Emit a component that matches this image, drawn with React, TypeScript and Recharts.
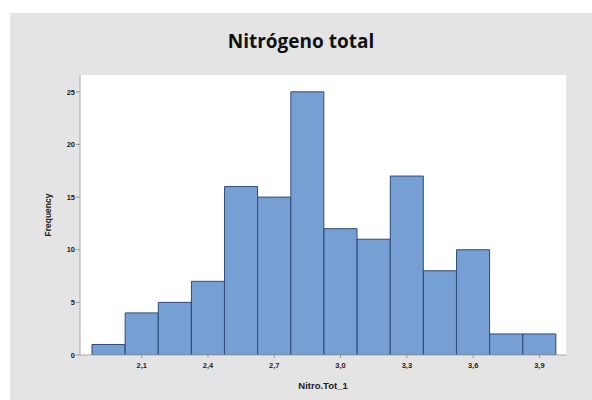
import { BarChart, Bar, XAxis, YAxis, CartesianGrid } from 'recharts';

// bin centers (width 0.15) and counts
const binCenters = [1.95, 2.1, 2.25, 2.4, 2.55, 2.7, 2.85, 3.0, 3.15, 3.3, 3.45, 3.6, 3.75, 3.9];
const counts = [1, 4, 5, 7, 16, 15, 25, 12, 11, 17, 8, 10, 2, 2];
const xTicks = [2.1, 2.4, 2.7, 3.0, 3.3, 3.6, 3.9];
const yTicks = [0, 5, 10, 15, 20, 25];

const data = binCenters.map((bin, i) => ({ bin, count: counts[i] }));

const fmt = (v: number) => v.toFixed(1).replace('.', ',');

const XTick = (props: any) => {
  const { x, y, payload } = props;
  const v = Number(payload.value);
  if (!xTicks.some((t) => Math.abs(t - v) < 1e-6)) return null;
  return (
    <g>
      <line x1={x} x2={x} y1={y} y2={y + 3} stroke="#999" />
      <text
        x={x}
        y={y + 13}
        textAnchor="middle"
        fontSize={7.5}
        fontWeight={700}
        fontFamily="'Liberation Sans', Arial, sans-serif"
        fill="#222"
      >
        {fmt(v)}
      </text>
    </g>
  );
};

const App = () => {
  return (
    <div style={{ position: 'absolute', left: 0, top: 0, width: 592, height: 400, background: '#fff' }}>
      <div style={{ position: 'absolute', left: 10, top: 13, width: 582, height: 387, background: '#e4e4e4' }} />
      <div
        style={{
          position: 'absolute',
          left: 10,
          width: 582,
          top: 28,
          textAlign: 'center',
          fontFamily: "'Open Sans', sans-serif",
          fontWeight: 700,
          fontSize: 19,
          color: '#111',
        }}
      >
        Nitrógeno total
      </div>
      <div style={{ position: 'absolute', left: 0, top: 0 }}>
        <BarChart
          width={592}
          height={400}
          data={data}
          barCategoryGap={0}
          margin={{ top: 75, right: 26, bottom: 20, left: 50 }}
        >
          <CartesianGrid horizontal={false} vertical={false} fill="#ffffff" stroke="none" />
          <XAxis
            dataKey="bin"
            interval={0}
            padding={{ left: 12, right: 10 }}
            height={25}
            tickLine={false}
            tickSize={0}
            tickMargin={0}
            axisLine={{ stroke: '#a8a8a8' }}
            tick={<XTick />}
            label={{
              value: 'Nitro.Tot_1',
              position: 'bottom',
              offset: 2,
              style: { fontSize: 9.5, fontWeight: 700, fill: '#222', fontFamily: "'Liberation Sans', Arial, sans-serif" },
            }}
          />
          <YAxis
            width={30}
            domain={[0, 26.6]}
            ticks={yTicks}
            allowDataOverflow
            tickSize={4}
            tickMargin={1}
            axisLine={{ stroke: '#a8a8a8' }}
            tickLine={{ stroke: '#999' }}
            tick={{ fontSize: 7.5, fontWeight: 700, fill: '#222', fontFamily: "'Liberation Sans', Arial, sans-serif" }}
            label={{
              value: 'Frequency',
              angle: -90,
              position: 'center',
              dx: -17,
              style: { fontSize: 8.5, fontWeight: 700, fill: '#222', fontFamily: "'Liberation Sans', Arial, sans-serif" },
            }}
          />
          <Bar dataKey="count" fill="#76a0d4" stroke="#2f4a78" strokeWidth={1} isAnimationActive={false} />
        </BarChart>
      </div>
    </div>
  );
};

export default App;
